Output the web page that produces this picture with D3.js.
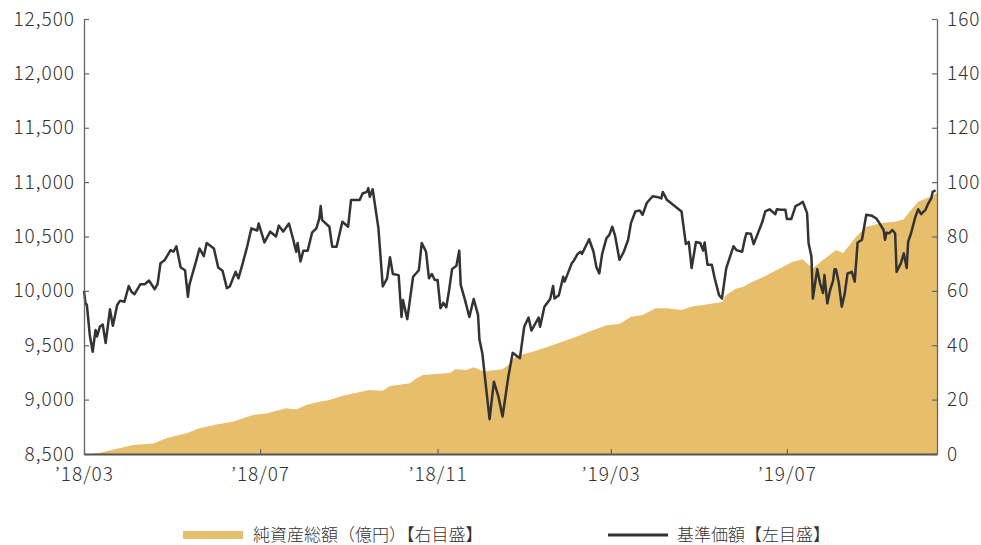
<!DOCTYPE html>
<html>
<head>
<meta charset="utf-8">
<title>基準価額・純資産総額の推移</title>
<script src="https://d3js.org/d3.v7.min.js"></script>
<style>
  body { margin: 0; background: #fff; }
  svg { display: block; }
  text { font-family: "Noto Sans CJK JP", "Noto Sans", sans-serif; font-weight: 300; fill: #333; }
  .axis text { font-size: 19px; letter-spacing: 1px; }
  .legend text { font-size: 17px; }
</style>
</head>
<body>
<svg width="981" height="545"></svg>
<script>
// 基準価額 (left axis, 円)
var navDates = [
  "2018-03-01","2018-03-02","2018-03-03","2018-03-05","2018-03-07","2018-03-09","2018-03-10","2018-03-12","2018-03-14","2018-03-16",
  "2018-03-19","2018-03-21","2018-03-24","2018-03-26","2018-03-29","2018-04-01","2018-04-03","2018-04-05","2018-04-09","2018-04-12",
  "2018-04-15","2018-04-19","2018-04-21","2018-04-23","2018-04-26","2018-04-30","2018-05-02","2018-05-04","2018-05-07","2018-05-10",
  "2018-05-12","2018-05-13","2018-05-18","2018-05-20","2018-05-23","2018-05-25","2018-05-30","2018-06-02","2018-06-05","2018-06-08",
  "2018-06-10","2018-06-14","2018-06-16","2018-06-19","2018-06-22","2018-06-25","2018-06-29","2018-06-30","2018-07-04","2018-07-08",
  "2018-07-12","2018-07-14","2018-07-17","2018-07-21","2018-07-24","2018-07-26","2018-07-27","2018-07-29","2018-07-31","2018-08-03",
  "2018-08-06","2018-08-09","2018-08-11","2018-08-12","2018-08-13","2018-08-18","2018-08-20","2018-08-23","2018-08-27","2018-08-31",
  "2018-09-02","2018-09-08","2018-09-10","2018-09-13","2018-09-14","2018-09-15","2018-09-17","2018-09-21","2018-09-24","2018-09-27",
  "2018-09-29","2018-10-01","2018-10-05","2018-10-07","2018-10-08","2018-10-11","2018-10-15","2018-10-19","2018-10-21","2018-10-24",
  "2018-10-26","2018-10-28","2018-10-30","2018-11-01","2018-11-03","2018-11-05","2018-11-07","2018-11-09","2018-11-11","2018-11-14",
  "2018-11-16","2018-11-17","2018-11-20","2018-11-23","2018-11-26","2018-11-29","2018-11-30","2018-12-02","2018-12-04","2018-12-07",
  "2018-12-10","2018-12-13","2018-12-16","2018-12-20","2018-12-23","2018-12-28","2018-12-31","2019-01-03","2019-01-05","2019-01-10",
  "2019-01-11","2019-01-14","2019-01-18","2019-01-20","2019-01-21","2019-01-24","2019-01-27","2019-01-28","2019-02-02","2019-02-03",
  "2019-02-06","2019-02-08","2019-02-09","2019-02-14","2019-02-17","2019-02-19","2019-02-21","2019-02-23","2019-02-26","2019-02-28",
  "2019-03-02","2019-03-04","2019-03-07","2019-03-10","2019-03-13","2019-03-15","2019-03-18","2019-03-21","2019-03-23","2019-03-26",
  "2019-03-30","2019-04-03","2019-04-05","2019-04-06","2019-04-09","2019-04-19","2019-04-22","2019-04-24","2019-04-26","2019-04-29",
  "2019-05-02","2019-05-04","2019-05-05","2019-05-07","2019-05-10","2019-05-12","2019-05-15","2019-05-17","2019-05-20","2019-05-25",
  "2019-05-27","2019-05-31","2019-06-02","2019-06-03","2019-06-06","2019-06-08","2019-06-14","2019-06-16","2019-06-19","2019-06-23",
  "2019-06-24","2019-06-27","2019-06-30","2019-07-01","2019-07-04","2019-07-07","2019-07-10","2019-07-12","2019-07-15","2019-07-16",
  "2019-07-18","2019-07-19","2019-07-22","2019-07-24","2019-07-26","2019-07-27","2019-07-29","2019-07-31","2019-08-02","2019-08-03",
  "2019-08-04","2019-08-06","2019-08-08","2019-08-10","2019-08-12","2019-08-15","2019-08-17","2019-08-19","2019-08-22","2019-08-25",
  "2019-08-29","2019-09-01","2019-09-03","2019-09-06","2019-09-07","2019-09-08","2019-09-10","2019-09-12","2019-09-14","2019-09-15",
  "2019-09-18","2019-09-20","2019-09-22","2019-09-23","2019-09-25","2019-09-28","2019-09-30","2019-10-02","2019-10-05","2019-10-07",
  "2019-10-09","2019-10-10","2019-10-12"
];
var navValues = [
  10000, 9890, 9870, 9595, 9440, 9640, 9580, 9670, 9690, 9520,
  9830, 9680, 9870, 9910, 9900, 10045, 9990, 9970, 10060, 10060,
  10095, 10015, 10065, 10255, 10285, 10375, 10360, 10410, 10215, 10190,
  9945, 10055, 10290, 10390, 10320, 10440, 10390, 10215, 10185, 10025,
  10040, 10175, 10115, 10255, 10405, 10575, 10555, 10620, 10445, 10545,
  10500, 10600, 10545, 10620, 10470, 10360, 10440, 10270, 10370, 10370,
  10535, 10575, 10665, 10780, 10650, 10590, 10405, 10405, 10635, 10590,
  10835, 10835, 10895, 10910, 10945, 10865, 10935, 10575, 10040, 10115,
  10310, 10155, 10145, 9760, 9915, 9740, 10130, 10190, 10440, 10360,
  10115, 10155, 10100, 10100, 9840, 9890, 9850, 10010, 10200, 10230,
  10370, 10055, 9915, 9760, 9925, 9780, 9550, 9425, 9180, 8820,
  9165, 9035, 8845, 9210, 9430, 9380, 9670, 9755, 9635, 9755,
  9670, 9855, 9925, 10045, 9930, 9960, 10130, 10085, 10255, 10270,
  10340, 10360, 10340, 10475, 10360, 10220, 10160, 10340, 10485, 10515,
  10590, 10505, 10285, 10360, 10470, 10625, 10730, 10740, 10700, 10810,
  10870, 10860, 10850, 10910, 10835, 10730, 10430, 10450, 10210, 10450,
  10440, 10370, 10445, 10240, 10240, 10115, 9960, 9930, 10210, 10410,
  10375, 10360, 10485, 10530, 10525, 10430, 10635, 10730, 10750, 10705,
  10750, 10745, 10745, 10660, 10660, 10780, 10800, 10820, 10715, 10440,
  10315, 9930, 10200, 10070, 9980, 10145, 9885, 10010, 10095, 10200,
  10200, 10070, 9855, 9970, 10160, 10175, 10085, 10445, 10470, 10700,
  10690, 10665, 10625, 10560, 10470, 10535, 10530, 10560, 10530, 10175,
  10255, 10345, 10210, 10450, 10530, 10680, 10750, 10705, 10745, 10805,
  10850, 10910, 10925
];

// 純資産総額 (right axis, 億円)
var assetDates = [
  "2018-03-07","2018-03-12","2018-04-04","2018-04-18","2018-04-27","2018-05-11","2018-05-20","2018-05-30","2018-06-12","2018-06-26",
  "2018-07-06","2018-07-19","2018-07-26","2018-08-02","2018-08-11","2018-08-18","2018-08-25","2018-09-04","2018-09-15","2018-09-24",
  "2018-09-29","2018-10-13","2018-10-17","2018-10-22","2018-10-31","2018-11-10","2018-11-13","2018-11-21","2018-11-26","2018-12-03",
  "2018-12-16","2018-12-20","2018-12-25","2019-01-06","2019-01-20","2019-02-05","2019-02-17","2019-02-26","2019-03-07","2019-03-15",
  "2019-03-23","2019-04-01","2019-04-09","2019-04-19","2019-04-27","2019-05-04","2019-05-17","2019-05-20","2019-05-27","2019-06-01",
  "2019-06-05","2019-06-15","2019-06-24","2019-07-05","2019-07-12","2019-07-15","2019-07-19","2019-07-26","2019-08-04","2019-08-09",
  "2019-08-18","2019-08-25","2019-09-06","2019-09-14","2019-09-20","2019-09-24","2019-09-30","2019-10-08","2019-10-13"
];
var assetValues = [
  0.2, 0.5, 3.3, 3.9, 5.8, 7.6, 9.5, 10.7, 11.9, 14.3,
  15.0, 16.8, 16.4, 18.0, 19.2, 19.9, 21.1, 22.3, 23.5, 23.3,
  25.0, 26.0, 27.8, 29.1, 29.4, 29.9, 31.2, 30.9, 31.9, 30.3,
  31.2, 32.7, 36.0, 37.6, 40.1, 43.1, 45.6, 47.4, 47.8, 50.5,
  51.1, 53.6, 53.6, 53.0, 54.3, 54.8, 55.9, 58.5, 60.9, 61.5,
  62.8, 65.2, 67.7, 70.7, 71.6, 70.1, 68.3, 71.4, 75.0, 73.9,
  79.9, 83.6, 85.1, 85.4, 86.3, 89.1, 92.8, 94.6, 96.0
];

// axis ticks
var xTickDates = ["2018-03-01", "2018-07-01", "2018-11-01", "2019-03-01", "2019-07-01"];
var leftTicks = [8500, 9000, 9500, 10000, 10500, 11000, 11500, 12000, 12500];
var rightTicks = [0, 20, 40, 60, 80, 100, 120, 140, 160];

var legendLabels = ["純資産総額（億円）【右目盛】", "基準価額【左目盛】"];

var svg = d3.select("svg");
var margin = {top: 19, right: 44, bottom: 91, left: 84};
var width = 981 - margin.left - margin.right;
var height = 545 - margin.top - margin.bottom;

var parseDate = d3.timeParse("%Y-%m-%d");

var nav = navDates.map(function(d, i) { return {date: parseDate(d), value: navValues[i]}; });
var assets = assetDates.map(function(d, i) { return {date: parseDate(d), value: assetValues[i]}; });

var x = d3.scaleTime()
  .domain([parseDate("2018-03-01"), parseDate("2019-10-13")])
  .range([0, width]);
var yLeft = d3.scaleLinear().domain([8500, 12500]).range([height, 0]);
var yRight = d3.scaleLinear().domain([0, 160]).range([height, 0]);

var g = svg.append("g")
  .attr("transform", "translate(" + margin.left + "," + margin.top + ")");

// net assets area
var area = d3.area()
  .x(function(d) { return x(d.date); })
  .y0(height)
  .y1(function(d) { return yRight(d.value); });

g.append("path")
  .datum(assets)
  .attr("fill", "#E6BE6C")
  .attr("d", area);

// NAV line
var line = d3.line()
  .x(function(d) { return x(d.date); })
  .y(function(d) { return yLeft(d.value); });

g.append("path")
  .datum(nav)
  .attr("fill", "none")
  .attr("stroke", "#333")
  .attr("stroke-width", 2.5)
  .attr("stroke-linejoin", "round")
  .attr("d", line);

// axes (ticks point inward)
var fmtComma = d3.format(",");

var left = g.append("g").attr("class", "axis")
  .call(d3.axisLeft(yLeft).tickValues(leftTicks).tickFormat(fmtComma)
    .tickSizeInner(-5).tickSizeOuter(0).tickPadding(9));

var right = g.append("g").attr("class", "axis")
  .attr("transform", "translate(" + width + ",0)")
  .call(d3.axisRight(yRight).tickValues(rightTicks)
    .tickSizeInner(-5).tickSizeOuter(0).tickPadding(10));

var bottom = g.append("g").attr("class", "axis")
  .attr("transform", "translate(0," + height + ")")
  .call(d3.axisBottom(x).tickValues(xTickDates.map(parseDate))
    .tickFormat(d3.timeFormat("’%y/%m"))
    .tickSizeInner(-5).tickSizeOuter(0).tickPadding(14));

[left, right, bottom].forEach(function(a) {
  a.select(".domain").attr("stroke", "#666").attr("stroke-width", 1.3);
  a.selectAll(".tick line").attr("stroke", "#666").attr("stroke-width", 1.2);
  a.selectAll("text").attr("fill", "#333");
});
bottom.select(".domain").attr("stroke", "#555").attr("stroke-width", 2);

// legend
var legend = svg.append("g").attr("class", "legend");

legend.append("rect")
  .attr("x", 183).attr("y", 531)
  .attr("width", 60).attr("height", 8)
  .attr("fill", "#E6BE6C");
legend.append("text")
  .attr("x", 253).attr("y", 535)
  .attr("dy", "0.35em")
  .text(legendLabels[0]);

legend.append("line")
  .attr("x1", 608).attr("x2", 668)
  .attr("y1", 535).attr("y2", 535)
  .attr("stroke", "#333").attr("stroke-width", 3);
legend.append("text")
  .attr("x", 677).attr("y", 535)
  .attr("dy", "0.35em")
  .text(legendLabels[1]);
</script>
</body>
</html>
